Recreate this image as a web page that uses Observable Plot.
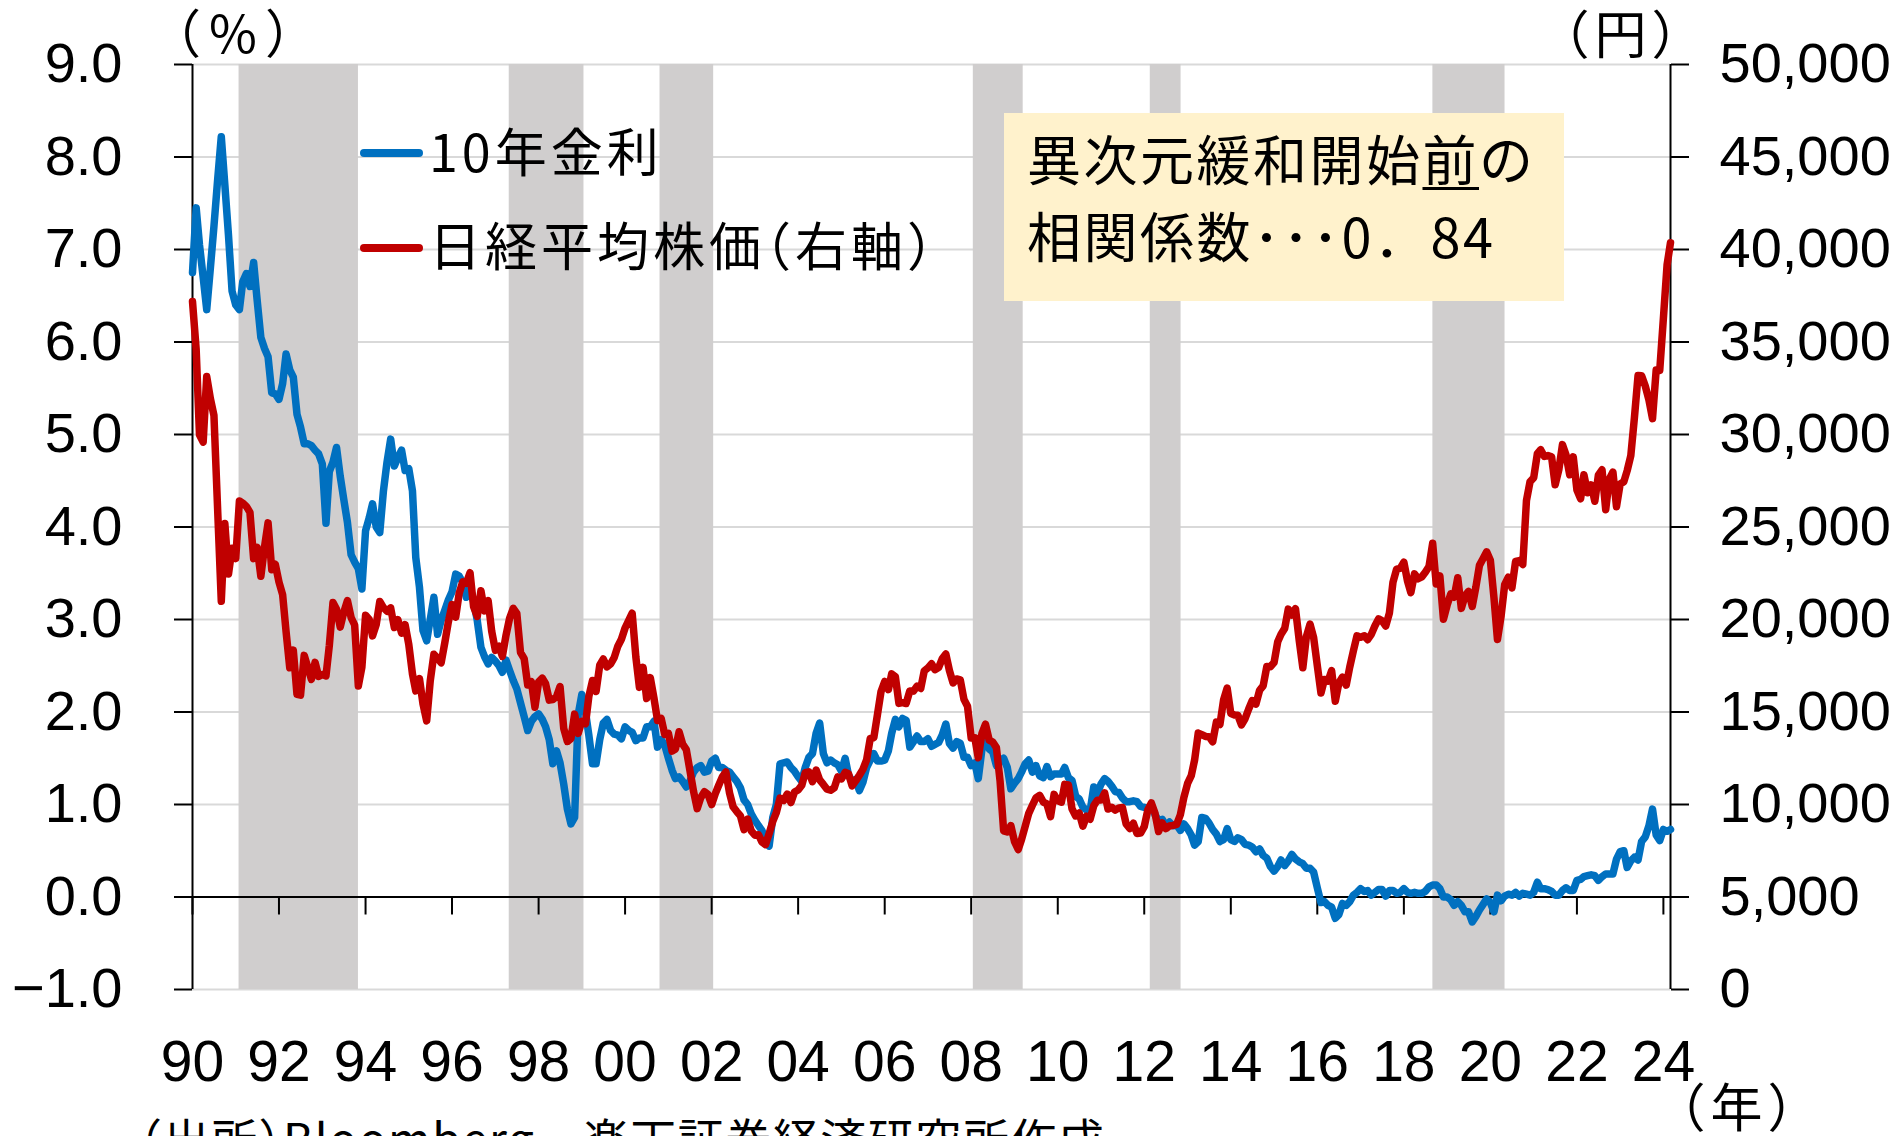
<!DOCTYPE html>
<html>
<head>
<meta charset="utf-8">
<script src="https://cdn.jsdelivr.net/npm/d3@7"></script>
<script src="https://cdn.jsdelivr.net/npm/@observablehq/plot@0.6"></script>
<style>
html, body { margin: 0; padding: 0; overflow: hidden; background: #fff; }
#wrap { position: relative; width: 1901px; height: 1136px; overflow: hidden; background: #fff; }
#chart svg { display: block; }
.jp { position: absolute; white-space: nowrap; color: #000; font-family: "Noto Sans CJK JP", "Noto Sans CJK SC", sans-serif; line-height: 1; }
.unit { font-size: 52px; width: 200px; text-align: center; }
.legline { position: absolute; height: 8px; width: 63px; border-radius: 4px; }
.legtext { font-size: 52px; left: 429px; letter-spacing: 4px; font-feature-settings: "halt"; }
#note { position: absolute; left: 1004px; top: 113px; width: 560px; height: 188px; background: #FFF2CC; }
.notetext { font-size: 54px; letter-spacing: 2.5px; left: 1027px; }
.u { text-decoration: underline; text-decoration-thickness: 3px; text-underline-offset: 6px; }
#caption { font-size: 46px; left: 139px; top: 1114px; letter-spacing: 1.5px; }
.halt { font-feature-settings: "halt"; }
</style>
</head>
<body>
<div id="wrap">
  <div id="chart"></div>
  <div class="jp unit" style="left:137px; top:5px; letter-spacing:8px;">（%）</div>
  <div class="jp unit" style="left:1523px; top:6px; letter-spacing:5px;">（円）</div>
  <div class="jp unit" style="left:1639px; top:1079px; letter-spacing:5px;">（年）</div>
  <div class="legline" style="left:360px; top:149px; background:#0070C0;"></div>
  <div class="legline" style="left:360px; top:244px; background:#C00000;"></div>
  <div class="jp legtext" style="top:124px;">10年金利</div>
  <div class="jp legtext" style="top:218px;">日経平均株価（右軸）</div>
  <div id="note"></div>
  <div class="jp notetext" style="top:131px;">異次元緩和開始<span class="u">前</span>の</div>
  <div class="jp notetext" style="top:207.5px;">相関係数･･･0．84</div>
  <div class="jp" id="caption"><span class="halt">（</span>出所<span class="halt">）</span>Bloomberg、楽天証券経済研究所作成</div>
</div>
<script>
// ---- Data (monthly, Jan 1990 – Mar 2024) ----
const startMonth = "1990-01-01";
const endMonth = "2024-03-01";

// 10-year JGB yield (%)
const jgb10y = [
  6.75, 7.45, 7.05, 6.70, 6.35, 6.80, 7.25, 7.75, 8.22, 7.70, 7.15, 6.55, // 1990
  6.40, 6.35, 6.65, 6.74, 6.60, 6.86, 6.45, 6.05, 5.93, 5.84, 5.45, 5.44, // 1991
  5.38, 5.55, 5.87, 5.70, 5.62, 5.22, 5.08, 4.90, 4.90, 4.88, 4.83, 4.79, // 1992
  4.68, 4.04, 4.60, 4.70, 4.86, 4.55, 4.30, 4.05, 3.70, 3.62, 3.55, 3.33, // 1993
  3.96, 4.10, 4.25, 4.00, 3.94, 4.39, 4.70, 4.95, 4.66, 4.75, 4.83, 4.61, // 1994
  4.63, 4.39, 3.67, 3.35, 2.88, 2.77, 3.00, 3.24, 2.84, 2.99, 3.10, 3.21, // 1995
  3.30, 3.49, 3.47, 3.40, 3.24, 3.35, 3.20, 2.99, 2.70, 2.60, 2.52, 2.59, // 1996
  2.55, 2.50, 2.43, 2.56, 2.45, 2.34, 2.25, 2.10, 1.95, 1.80, 1.90, 1.95, // 1997
  1.98, 1.92, 1.84, 1.70, 1.44, 1.58, 1.45, 1.22, 0.95, 0.79, 0.86, 1.97, // 1998
  2.19, 2.00, 1.75, 1.44, 1.44, 1.70, 1.88, 1.92, 1.80, 1.76, 1.75, 1.71, // 1999
  1.84, 1.80, 1.78, 1.69, 1.72, 1.72, 1.84, 1.84, 1.90, 1.62, 1.70, 1.64, // 2000
  1.50, 1.37, 1.28, 1.30, 1.25, 1.19, 1.25, 1.35, 1.40, 1.42, 1.35, 1.36, // 2001
  1.47, 1.50, 1.40, 1.40, 1.37, 1.35, 1.30, 1.25, 1.18, 1.05, 1.00, 0.90, // 2002
  0.83, 0.77, 0.72, 0.62, 0.55, 0.86, 1.00, 1.44, 1.45, 1.46, 1.40, 1.36, // 2003
  1.30, 1.25, 1.40, 1.51, 1.55, 1.77, 1.88, 1.55, 1.45, 1.48, 1.45, 1.43, // 2004
  1.36, 1.50, 1.32, 1.25, 1.27, 1.15, 1.24, 1.40, 1.48, 1.55, 1.47, 1.47, // 2005
  1.48, 1.58, 1.77, 1.92, 1.84, 1.93, 1.91, 1.62, 1.68, 1.74, 1.68, 1.68, // 2006
  1.71, 1.63, 1.65, 1.67, 1.75, 1.87, 1.66, 1.61, 1.68, 1.66, 1.51, 1.51, // 2007
  1.42, 1.45, 1.28, 1.60, 1.75, 1.60, 1.57, 1.42, 1.47, 1.50, 1.40, 1.17, // 2008
  1.23, 1.28, 1.35, 1.44, 1.48, 1.35, 1.42, 1.31, 1.29, 1.41, 1.30, 1.33, // 2009
  1.33, 1.33, 1.40, 1.29, 1.26, 1.09, 1.06, 0.97, 0.94, 0.93, 1.19, 1.12, // 2010
  1.22, 1.28, 1.25, 1.20, 1.14, 1.13, 1.07, 1.03, 1.03, 1.04, 1.03, 0.98, // 2011
  0.97, 0.96, 0.99, 0.89, 0.82, 0.84, 0.77, 0.81, 0.77, 0.78, 0.72, 0.79, // 2012
  0.74, 0.67, 0.56, 0.60, 0.86, 0.85, 0.80, 0.73, 0.68, 0.60, 0.62, 0.74, // 2013
  0.62, 0.60, 0.64, 0.62, 0.57, 0.56, 0.54, 0.49, 0.52, 0.45, 0.42, 0.33, // 2014
  0.28, 0.33, 0.40, 0.34, 0.39, 0.46, 0.41, 0.38, 0.36, 0.31, 0.31, 0.27, // 2015
  0.10, -0.06, -0.05, -0.09, -0.11, -0.23, -0.19, -0.07, -0.09, -0.05, 0.02, 0.05, // 2016
  0.09, 0.06, 0.07, 0.02, 0.05, 0.08, 0.08, 0.01, 0.07, 0.07, 0.04, 0.05, // 2017
  0.09, 0.05, 0.04, 0.05, 0.04, 0.04, 0.06, 0.11, 0.13, 0.13, 0.09, 0.00, // 2018
  0.00, -0.03, -0.09, -0.05, -0.09, -0.16, -0.16, -0.27, -0.21, -0.14, -0.08, -0.02, // 2019
  -0.06, -0.16, 0.02, -0.04, 0.01, 0.03, 0.02, 0.05, 0.01, 0.04, 0.03, 0.02, // 2020
  0.05, 0.16, 0.09, 0.09, 0.08, 0.06, 0.02, 0.02, 0.07, 0.10, 0.07, 0.07, // 2021
  0.18, 0.19, 0.22, 0.23, 0.24, 0.23, 0.18, 0.22, 0.25, 0.25, 0.25, 0.41, // 2022
  0.49, 0.50, 0.32, 0.39, 0.43, 0.40, 0.60, 0.65, 0.77, 0.95, 0.67, 0.61, // 2023
  0.73, 0.71, 0.73                                                        // 2024
];

// Nikkei 225 (yen, month-end)
const nikkei225 = [
  37189, 34592, 29980, 29585, 33131, 31940, 31035, 25978, 20984, 25194, 22455, 23849, // 1990
  23293, 26409, 26292, 26111, 25790, 23291, 23900, 22335, 23916, 25222, 22687, 22984, // 1991
  22023, 21339, 19346, 17391, 18348, 15952, 15910, 18061, 17399, 16767, 17684, 16925, // 1992
  17024, 16953, 18591, 20919, 20552, 19590, 20380, 21027, 20106, 19703, 16408, 17417, // 1993
  20229, 19997, 19112, 19725, 20974, 20644, 20449, 20629, 19564, 19990, 19263, 19723, // 1994
  18650, 17053, 16140, 16807, 15437, 14517, 16678, 18117, 17913, 17655, 18744, 19868, // 1995
  20813, 20125, 21407, 22041, 21956, 22531, 20693, 20167, 21556, 20467, 21020, 19361, // 1996
  18330, 18557, 18003, 19151, 20069, 20605, 20331, 18229, 17888, 16459, 16636, 15259, // 1997
  16628, 16831, 16527, 15641, 15671, 15830, 16379, 14108, 13406, 13565, 14884, 13842, // 1998
  14499, 14368, 15837, 16702, 16112, 17530, 17862, 17437, 17605, 17942, 18558, 18934, // 1999
  19540, 19960, 20337, 17974, 16332, 17411, 15727, 16861, 15747, 14540, 14649, 13786, // 2000
  13844, 12884, 12999, 13934, 13262, 12969, 11861, 10714, 9775, 10367, 10697, 10543,  // 2001
  9998, 10588, 11025, 11493, 11764, 10622, 9878, 9619, 9383, 8640, 9216, 8579,         // 2002
  8340, 8363, 7973, 7831, 8425, 9083, 9563, 10344, 10219, 10560, 10101, 10677,         // 2003
  10784, 11042, 11715, 11762, 11236, 11859, 11326, 11082, 10824, 10771, 10899, 11489,  // 2004
  11388, 11741, 11669, 11009, 11277, 11584, 11900, 12414, 13574, 13607, 14872, 16111,  // 2005
  16650, 16206, 17060, 16906, 15467, 15505, 15457, 16141, 16128, 16399, 16274, 17226,  // 2006
  17383, 17604, 17288, 17400, 17876, 18138, 17249, 16569, 16786, 16737, 15681, 15308,  // 2007
  13592, 13603, 12526, 13850, 14338, 13481, 13377, 13073, 11260, 8577, 8512, 8860,     // 2008
  7994, 7568, 8110, 8828, 9523, 9958, 10357, 10493, 10133, 10035, 9346, 10546,         // 2009
  10198, 10126, 11090, 11057, 9769, 9383, 9537, 8824, 9369, 9202, 9937, 10229,         // 2010
  10238, 10624, 9755, 9850, 9694, 9816, 9833, 8955, 8700, 8988, 8435, 8455,            // 2011
  8803, 9723, 10084, 9521, 8543, 9007, 8695, 8840, 8870, 8928, 9446, 10395,            // 2012
  11139, 11559, 12398, 13861, 13775, 13677, 13668, 13389, 14456, 14328, 15662, 16291,  // 2013
  14915, 14841, 14828, 14304, 14632, 15162, 15621, 15425, 16174, 16414, 17460, 17451,  // 2014
  17674, 18798, 19207, 19520, 20563, 20236, 20585, 18890, 17388, 19083, 19747, 19034,  // 2015
  17518, 16027, 16759, 16666, 17235, 15576, 16569, 16887, 16450, 17425, 18308, 19114,  // 2016
  19041, 19119, 18909, 19197, 19651, 20033, 19925, 19646, 20356, 22012, 22725, 22765,  // 2017
  23098, 22068, 21454, 22468, 22202, 22305, 22554, 22865, 24120, 21920, 22351, 20015,  // 2018
  20773, 21385, 21206, 22259, 20601, 21276, 21521, 20704, 21756, 22927, 23294, 23657,  // 2019
  23205, 21143, 18917, 20194, 21878, 22288, 21710, 23140, 23185, 22977, 26434, 27444,  // 2020
  27663, 28966, 29179, 28813, 28860, 28792, 27284, 28090, 29453, 28893, 27822, 28792,  // 2021
  27002, 26527, 27821, 26848, 27280, 26393, 27802, 28092, 25938, 27587, 27969, 26095,  // 2022
  27327, 27446, 28041, 28856, 30888, 33189, 33172, 32619, 31858, 30859, 33487, 33464,  // 2023
  36287, 39166, 40369                                                                  // 2024
];

// Shaded periods (recessions)
const bandStart = ["1991-01-29", "1997-04-28", "2000-10-22", "2008-01-19", "2012-02-21", "2018-09-03"];
const bandEnd   = ["1993-11-02", "1999-01-19", "2002-01-18", "2009-03-15", "2012-11-07", "2020-05-04"];

// Axes
const yTicksPct = [-1, 0, 1, 2, 3, 4, 5, 6, 7, 8, 9];
const yenPerPct = 5000;           // right axis: 0–50,000 yen ↔ -1.0–9.0 %
const xTickYears = [1990, 1992, 1994, 1996, 1998, 2000, 2002, 2004, 2006, 2008, 2010, 2012, 2014, 2016, 2018, 2020, 2022, 2024];

// ---- Build ----
const months = d3.utcMonth.range(new Date(startMonth), d3.utcMonth.offset(new Date(endMonth), 1));
const rows = months.map((d, i) => ({date: d, jgb: jgb10y[i], nikkei: nikkei225[i]}));
const bands = bandStart.map((s, i) => ({start: new Date(s), end: new Date(bandEnd[i])}));
const xTickDates = xTickYears.map(y => new Date(Date.UTC(y, 0, 1)));
const xDomain = [new Date(startMonth), new Date(endMonth)];

const fmtPct = d => (d < 0 ? "\u2212" : "") + Math.abs(d).toFixed(1);
const fmtYen = d => ((d + 1) * yenPerPct).toLocaleString("en-US");
const numFont = '"Liberation Sans", Arial, "DejaVu Sans", sans-serif';

const chart = Plot.plot({
  width: 1901,
  height: 1105,
  marginLeft: 192,
  marginRight: 231,
  marginTop: 64,
  marginBottom: 116,
  style: {fontFamily: numFont, fontSize: "56px", color: "#000", background: "#fff", overflow: "visible"},
  x: {type: "utc", domain: xDomain},
  y: {domain: [-1, 9]},
  marks: [
    Plot.gridY(yTicksPct, {stroke: "#D9D9D9", strokeOpacity: 1, strokeWidth: 2}),
    Plot.rect(bands, {x1: "start", x2: "end", fill: "#D0CECE"}),
    Plot.ruleY([0], {stroke: "#000", strokeWidth: 2}),
    Plot.ruleX(xDomain, {stroke: "#000", strokeWidth: 2}),
    Plot.ruleX(xTickDates, {x: d => d, y1: 0, y2: 0, insetBottom: -18, stroke: "#000", strokeWidth: 2}),
    Plot.axisY({anchor: "left", ticks: yTicksPct, tickSize: 18, tickPadding: 52, tickFormat: fmtPct,
                label: null, fontSize: 56, strokeWidth: 2, stroke: "#000"}),
    Plot.axisY({anchor: "right", ticks: yTicksPct, tickSize: 18, tickPadding: 31, tickFormat: fmtYen,
                label: null, fontSize: 56, strokeWidth: 2, stroke: "#000"}),
    Plot.axisX({anchor: "bottom", ticks: xTickDates, tickSize: 0, tickPadding: 51,
                tickFormat: d => String(d.getUTCFullYear()).slice(2), label: null, fontSize: 57}),
    Plot.lineY(rows, {x: "date", y: "jgb", stroke: "#0070C0", strokeWidth: 7.5,
                      strokeLinejoin: "round", strokeLinecap: "round"}),
    Plot.lineY(rows, {x: "date", y: d => d.nikkei / yenPerPct - 1, stroke: "#C00000", strokeWidth: 7.5,
                      strokeLinejoin: "round", strokeLinecap: "round"})
  ]
});
document.getElementById("chart").appendChild(chart);
</script>
</body>
</html>
